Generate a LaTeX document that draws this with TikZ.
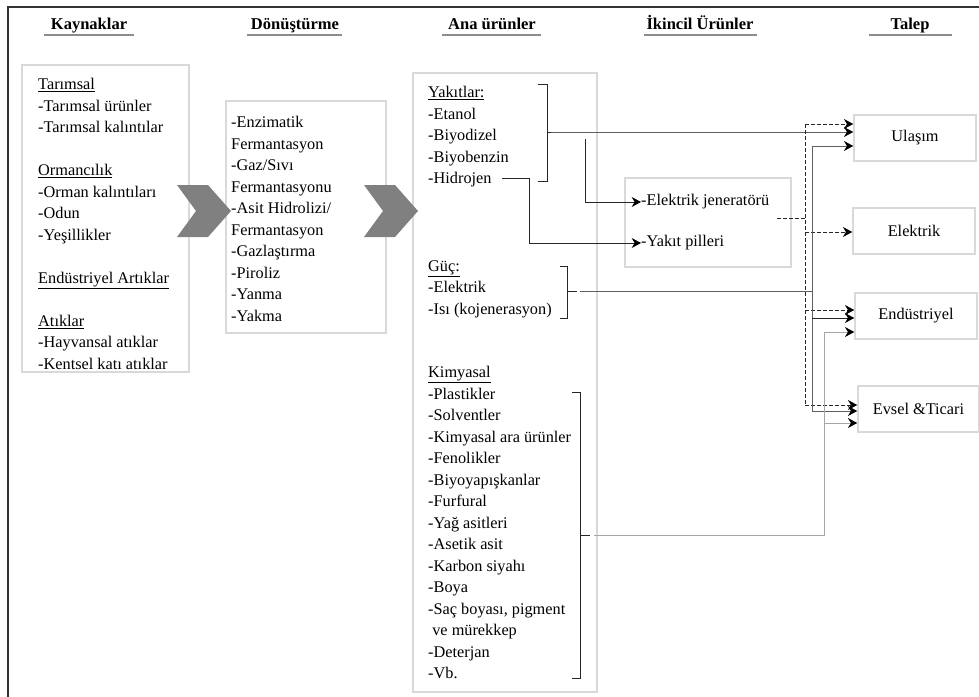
\documentclass[tikz,border=0pt]{standalone}
\usepackage{fontspec}
\setmainfont{Liberation Serif}
\usetikzlibrary{arrows.meta}
\definecolor{boxgray}{HTML}{D9D9D9}
\definecolor{blockgray}{HTML}{808080}
\definecolor{linegray}{HTML}{606060}
\definecolor{lightline}{HTML}{A6A6A6}
\definecolor{headgray}{HTML}{8C8C8C}
\tikzset{
   box/.style ={
      rectangle, draw=boxgray, line width=0.45mm, inner sep=0pt,
   },
   line/.style ={
      -, line width=0.3mm, color=black!85,
   },
   arrow/.style ={
      -{Stealth[length=2.8mm,width=3mm,inset=0.9mm,color=black]}, line width=0.3mm, color=black!85,
   },
   dasharrow/.style ={
      arrow, dash pattern=on 1.1mm off 0.7mm,
   },
   txt/.style ={
      align=left, anchor=north west, inner sep=0pt,
      font=\fontsize{13.9}{18.35}\selectfont,
   },
   heading/.style ={
      anchor=base, inner sep=0pt, font=\bfseries\fontsize{14.1}{17}\selectfont,
   },
   demand/.style ={
      box, minimum width=36.6mm, minimum height=13.8mm,
      font=\fontsize{13.9}{18.35}\selectfont,
   },
}

\begin{document}
\begin{tikzpicture}[x=0.3mm,y=-0.3mm]
   \useasboundingbox (0,0) rectangle (979,697);

   % frame
   \draw[line width=0.6mm, color=black!80] (8,697) -- (8,7) -- (979,7);

   % headings
   \node[heading] (hKay) at (89,29) {Kaynaklar};
   \node[heading] (hDon) at (295,29) {Dönüştürme};
   \node[heading] (hAna) at (492,29) {Ana ürünler};
   \node[heading] (hIki) at (700,29) {İkincil Ürünler};
   \node[heading] (hTal) at (910,29) {Talep};
   \foreach \a/\b in {44/134, 247/342, 442/541, 644/757, 869/952}
      \draw[headgray, line width=0.6mm] (\a,35) -- (\b,35);

   % boxes
   \node[box, minimum width=50.1mm, minimum height=92.1mm] (kaynak) at (105.5,218.5) {};
   \node[box, minimum width=48mm, minimum height=69.6mm] (donus) at (306,217) {};
   \node[box, minimum width=55.2mm, minimum height=185.7mm] (ana) at (505,382.5) {};
   \node[box, minimum width=49.8mm, minimum height=26.7mm] (ikincil) at (708,222.5) {};

   \node[demand] (ulasim) at (915,138) {Ulaşım};
   \node[demand] (elektrik) at (914,231) {Elektrik};
   \node[demand] (endustri) at (916,316) {Endüstriyel};
   \node[demand, minimum width=36.3mm] (evsel) at (918.5,409) {Evsel \&Ticari};

   % block arrows
   \foreach \s in {0,187}
      \fill[blockgray] (177+\s,185) -- (208+\s,185) -- (231+\s,211) -- (208+\s,237)
         -- (177+\s,237) -- (196+\s,211) -- cycle;

   % texts
   \node[txt] (tKay) at (38,78) {\underline{Tarımsal}\\-Tarımsal ürünler\\-Tarımsal kalıntılar\\[18.35pt]
      \underline{Ormancılık}\\-Orman kalıntıları\\-Odun\\-Yeşillikler\\[18.35pt]
      \underline{Endüstriyel Artıklar}\\[18.35pt]
      \underline{Atıklar}\\-Hayvansal atıklar\\-Kentsel katı atıklar};
   \node[txt] (tDon) at (231,116) {-Enzimatik\\Fermantasyon\\-Gaz/Sıvı\\Fermantasyonu\\-Asit Hidrolizi/\\
      Fermantasyon\\-Gazlaştırma\\-Piroliz\\-Yanma\\-Yakma};
   \node[txt] (tYak) at (428,86) {\underline{Yakıtlar:}\\-Etanol\\-Biyodizel\\-Biyobenzin\\-Hidrojen};
   \node[txt] (tGuc) at (428,260) {\underline{Güç:}\\-Elektrik\\-Isı (kojenerasyon)};
   \node[txt] (tKim) at (428,366) {\underline{Kimyasal}\\-Plastikler\\-Solventler\\-Kimyasal ara ürünler\\
      -Fenolikler\\-Biyoyapışkanlar\\-Furfural\\-Yağ asitleri\\-Asetik asit\\-Karbon siyahı\\-Boya\\
      -Saç boyası, pigment\\\ ve mürekkep\\-Deterjan\\-Vb.};
   \node[txt, anchor=west] (jen) at (641,202) {-Elektrik jeneratörü};
   \node[txt, anchor=west] (pil) at (641,243) {-Yakıt pilleri};

   % brackets
   \draw[line] (538,84) -- (547,84) -- (547,181) -- (538,181);
   \draw[line] (560,266) -- (567,266) -- (567,318) -- (560,318);
   \draw[line] (572,392) -- (580,392) -- (580,678) -- (572,678);

   \coordinate (fuelTick) at (551,132);
   \coordinate (h2) at (502,178);
   \coordinate (gucTick) at (580,291);
   \coordinate (kimTick) at (594,535);

   % fuels
   \draw[line] (547,132) -- (fuelTick);
   \draw[arrow, linegray] (fuelTick) -- (fuelTick -| ulasim.west);
   \draw[arrow] (585,139) |- (jen.west);
   \draw[arrow] (h2) -- (529,178) |- (pil.west);

   % secondary (dashed)
   \coordinate (d1) at (805,124);
   \coordinate (d2) at (805,232);
   \coordinate (d3) at (805,310);
   \coordinate (d4) at (805,405);
   \draw[line, dash pattern=on 1.1mm off 0.7mm] (777,218) -- (805,218);
   \draw[line, dash pattern=on 1.1mm off 0.7mm] (d1) -- (d4);
   \draw[dasharrow] (d1) -- (d1 -| ulasim.west);
   \draw[dasharrow] (d2) -- (d2 -| elektrik.west);
   \draw[dasharrow] (d3) -- (d3 -| endustri.west);
   \draw[dasharrow] (d4) -- (d4 -| evsel.west);

   % power
   \coordinate (g0) at (812,291);
   \coordinate (g1) at (812,146);
   \coordinate (g2) at (812,318);
   \coordinate (g3) at (812,411);
   \draw[line] (567,291) -- (577,291);
   \draw[line, linegray] (gucTick) -- (g0);
   \draw[line, linegray] (g1) -- (g3);
   \draw[arrow, linegray] (g1) -- (g1 -| ulasim.west);
   \draw[arrow] (g2) -- (g2 -| endustri.west);
   \draw[arrow, linegray] (g3) -- (g3 -| evsel.west);

   % chemicals
   \coordinate (k0) at (824,535);
   \coordinate (k1) at (824,332);
   \coordinate (k2) at (824,423);
   \draw[line] (580,535) -- (590,535);
   \draw[line, lightline] (kimTick) -- (k0) -- (k1);
   \draw[arrow, lightline] (k1) -- (k1 -| endustri.west);
   \draw[arrow, lightline] (k2) -- (k2 -| evsel.west);

\end{tikzpicture}
\end{document}
